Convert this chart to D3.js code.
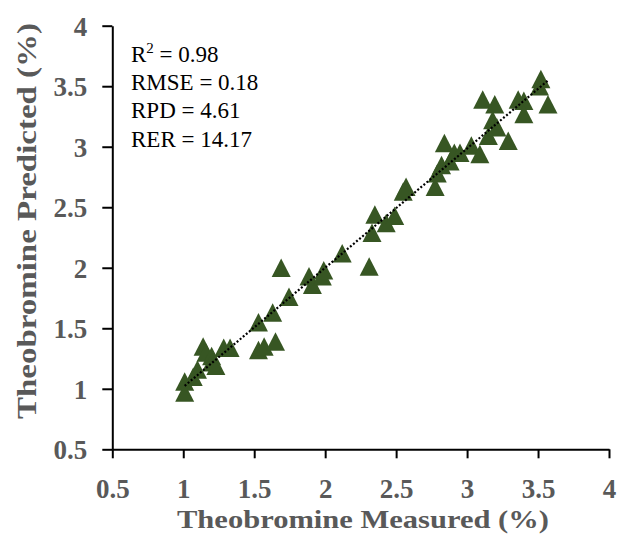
<!DOCTYPE html>
<html><head><meta charset="utf-8">
<script src="https://cdn.jsdelivr.net/npm/d3@7"></script>
<style>html,body{margin:0;padding:0;background:#fff;}svg{display:block;}</style>
</head><body>
<svg id="c" width="620" height="549"></svg>
<script>
const measured = [1.01,1.01,1.07,1.10,1.14,1.16,1.20,1.23,1.20,1.285,1.33,1.53,1.53,1.57,1.65,1.63,1.69,1.745,1.886,1.91,1.98,1.99,2.12,2.31,2.33,2.35,2.43,2.49,2.55,2.57,2.775,2.79,2.82,2.84,2.88,2.91,2.95,3.03,3.09,3.11,3.15,3.195,3.21,3.18,3.29,3.36,3.40,3.40,3.51,3.52,3.57];
const predicted = [0.97,1.06,1.10,1.16,1.35,1.30,1.27,1.19,1.22,1.34,1.34,1.55,1.32,1.35,1.39,1.63,2.00,1.76,1.93,1.86,1.93,1.98,2.12,2.01,2.29,2.44,2.37,2.43,2.63,2.67,2.67,2.78,2.85,3.03,2.88,2.95,2.95,3.01,2.94,3.39,3.09,3.35,3.16,3.22,3.05,3.39,3.38,3.27,3.50,3.56,3.35];
const xTicks = [0.5,1,1.5,2,2.5,3,3.5,4];
const yTicks = [0.5,1,1.5,2,2.5,3,3.5,4];
const trendSlope = 0.9855, trendIntercept = 0.029;
const statLabels = ["RMSE = 0.18","RPD = 4.61","RER = 14.17"];

const svg = d3.select("#c");
const x = d3.scaleLinear().domain([0.5,4]).range([112.3,609]);
const y = d3.scaleLinear().domain([0.5,4]).range([449.3,25.7]);
const grey = "#595959";
const tickFont = "'Liberation Serif', serif";

// axes
const ax = svg.append("g").attr("transform",`translate(0,${y(0.5)})`)
  .call(d3.axisBottom(x).tickValues(xTicks).tickSize(9).tickSizeOuter(0).tickFormat(d3.format("~g")));
const ay = svg.append("g").attr("transform",`translate(${x(0.5)},0)`)
  .call(d3.axisLeft(y).tickValues(yTicks).tickSize(10).tickSizeOuter(0).tickPadding(15).tickFormat(d3.format("~g")));
[ax,ay].forEach(g=>{
  g.select(".domain").attr("stroke","#000").attr("stroke-width",2);
  g.selectAll(".tick line").attr("stroke","#000").attr("stroke-width",2);
  g.selectAll(".tick text").attr("fill",grey).attr("font-family",tickFont)
   .attr("font-weight","bold").attr("font-size",27);
});
ax.selectAll(".tick text").attr("y",49).attr("dy","0");
ay.selectAll(".tick text").attr("dy","0.35em");

// markers
const w = 19, h = 18.5;
const tri = `M0,${-h/2}L${w/2},${h/2}L${-w/2},${h/2}Z`;
svg.append("g").selectAll("path").data(measured.map((m,i)=>[m,predicted[i]]))
  .join("path").attr("d",tri)
  .attr("transform",d=>`translate(${x(d[0])},${y(d[1])})`)
  .attr("fill","#375623");

// trendline
const xmin = d3.min(measured), xmax = d3.max(measured);
svg.append("line")
  .attr("x1",x(xmin)).attr("y1",y(trendSlope*xmin+trendIntercept))
  .attr("x2",x(xmax)).attr("y2",y(trendSlope*xmax+trendIntercept))
  .attr("stroke","#000").attr("stroke-width",2.2).attr("stroke-dasharray","2 2");

// stats text
const st = svg.append("g").attr("font-family","'Liberation Serif', serif").attr("font-size",23).attr("fill","#000");
const t0 = st.append("text").attr("x",131).attr("y",61.5);
t0.append("tspan").text("R");
t0.append("tspan").attr("font-size",15).attr("dy",-9).text("2");
t0.append("tspan").attr("dy",9).text(" = 0.98");
statLabels.forEach((s,i)=>{
  st.append("text").attr("x",131).attr("y",61.5+28.4*(i+1)).text(s);
});

// axis titles
svg.append("text").attr("x",363).attr("y",528).attr("text-anchor","middle")
  .attr("font-family",tickFont).attr("font-weight","bold").attr("font-size",26)
  .attr("fill",grey).attr("textLength",372).attr("lengthAdjust","spacingAndGlyphs")
  .text("Theobromine Measured (%)");
svg.append("text").attr("transform","translate(36,221) rotate(-90)").attr("text-anchor","middle")
  .attr("font-family",tickFont).attr("font-weight","bold").attr("font-size",27)
  .attr("fill",grey).attr("textLength",396).attr("lengthAdjust","spacingAndGlyphs")
  .text("Theobromine Predicted (%)");
</script>
</body></html>
